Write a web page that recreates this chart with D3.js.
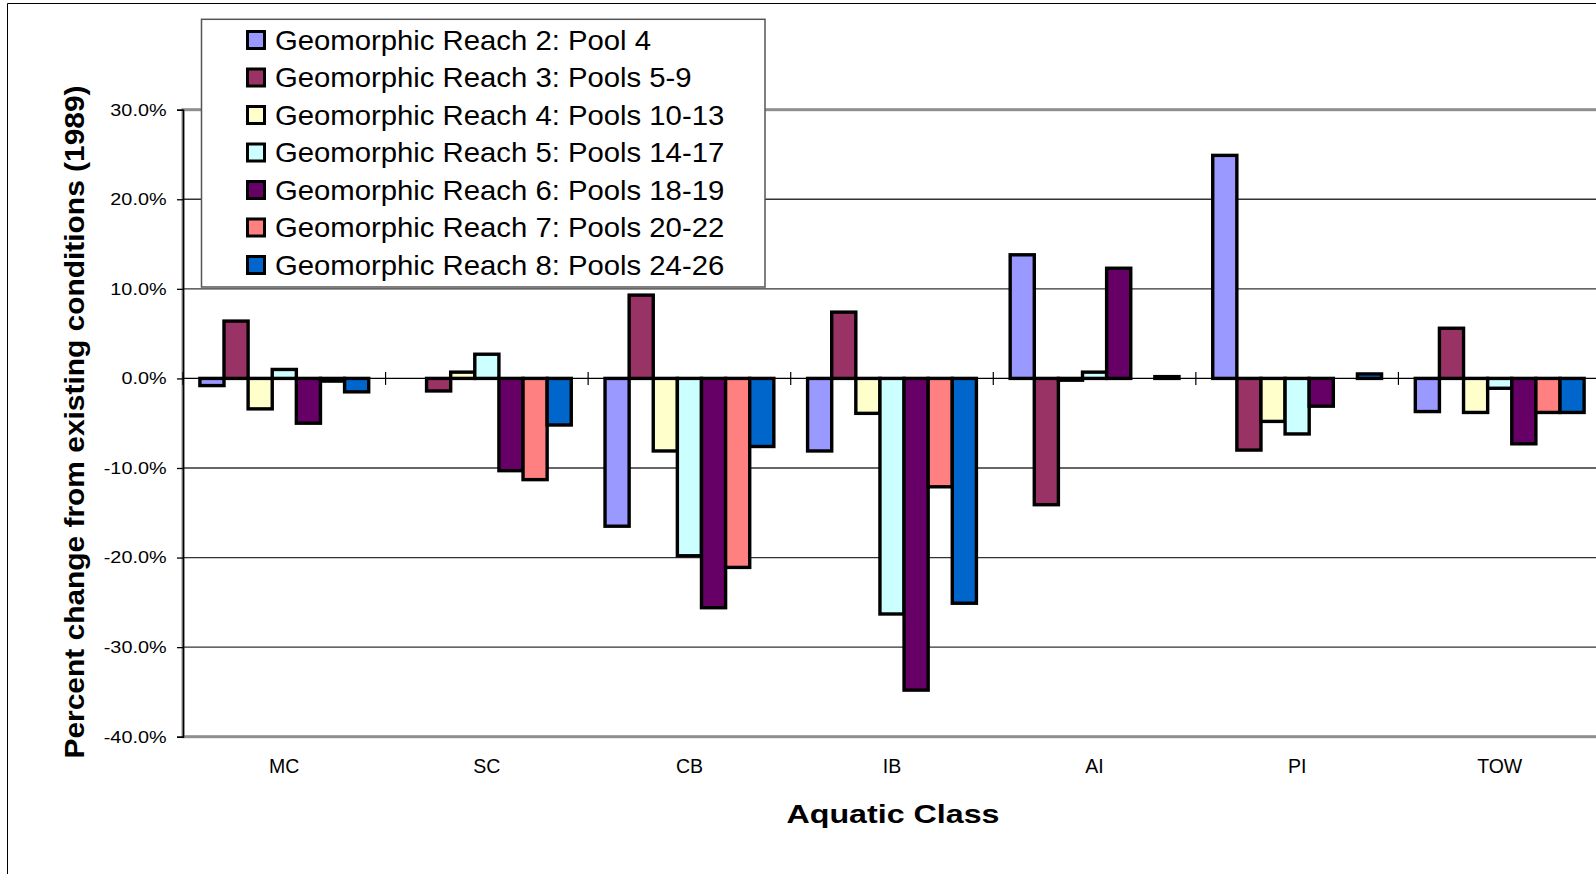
<!DOCTYPE html>
<html>
<head>
<meta charset="utf-8">
<script src="https://cdn.jsdelivr.net/npm/d3@7"></script>
<style>
  html, body { margin: 0; padding: 0; background: #fff; overflow: hidden; }
  svg { display: block; }
  text { font-family: "Liberation Sans", Arial, Helvetica, sans-serif; fill: #000; }
</style>
</head>
<body>
<svg id="chart" width="1596" height="874"></svg>
<script>
// ---- Data ----
const categories = ["MC", "SC", "CB", "IB", "AI", "PI", "TOW"];
const seriesNames = [
  "Geomorphic Reach 2: Pool 4",
  "Geomorphic Reach 3: Pools 5-9",
  "Geomorphic Reach 4: Pools 10-13",
  "Geomorphic Reach 5: Pools 14-17",
  "Geomorphic Reach 6: Pools 18-19",
  "Geomorphic Reach 7: Pools 20-22",
  "Geomorphic Reach 8: Pools 24-26"
];
const seriesColors = ["#9999FF", "#993366", "#FFFFCC", "#CCFFFF", "#660066", "#FF8080", "#0066CC"];
// percent change, one array per series, in category order (null = no bar)
const reach2 = [-0.8, null, -16.5, -8.1, 13.8, 24.9, -3.7];
const reach3 = [6.4, -1.4, 9.3, 7.4, -14.1, -8.0, 5.6];
const reach4 = [-3.4, 0.7, -8.1, -3.9, -0.2, -4.8, -3.8];
const reach5 = [1.0, 2.7, -19.8, -26.3, 0.7, -6.2, -1.1];
const reach6 = [-5.0, -10.3, -25.6, -34.8, 12.3, -3.1, -7.3];
const reach7 = [-0.3, -11.3, -21.1, -12.1, null, null, -3.8];
const reach8 = [-1.5, -5.2, -7.6, -25.1, 0.2, 0.5, -3.8];
const seriesValues = [reach2, reach3, reach4, reach5, reach6, reach7, reach8];
const yTicks = [30, 20, 10, 0, -10, -20, -30, -40];
const yTickLabels = ["30.0%", "20.0%", "10.0%", "0.0%", "-10.0%", "-20.0%", "-30.0%", "-40.0%"];
const yTitle = "Percent change from existing conditions (1989)";
const xTitle = "Aquatic Class";

// ---- Layout ----
const svg = d3.select("#chart");
const plot = { left: 183, right: 1601, top: 109.7, bottom: 736.7 };

const y = d3.scaleLinear().domain([-40, 30]).range([plot.bottom, plot.top]);
const x0 = d3.scaleBand().domain(categories).range([plot.left, plot.right]).padding(0);
const x1 = d3.scaleBand().domain(d3.range(seriesNames.length))
  .range([0, x0.bandwidth()]).paddingInner(0).paddingOuter(0.7);

// outer chart-area border (left and top visible)
svg.append("line").attr("x1", 7.5).attr("x2", 7.5).attr("y1", 3.5).attr("y2", 874)
  .attr("stroke", "#000").attr("stroke-width", 1);
svg.append("line").attr("x1", 7.5).attr("x2", 1596).attr("y1", 3.5).attr("y2", 3.5)
  .attr("stroke", "#000").attr("stroke-width", 1);

// plot area border
svg.append("rect")
  .attr("x", plot.left).attr("y", plot.top)
  .attr("width", plot.right - plot.left).attr("height", plot.bottom - plot.top)
  .attr("fill", "none").attr("stroke", "#8f8f8f").attr("stroke-width", 3);

// gridlines
svg.append("g").selectAll("line")
  .data(yTicks.filter(t => t !== 30 && t !== -40 && t !== 0))
  .join("line")
  .attr("x1", plot.left).attr("x2", plot.right)
  .attr("y1", d => y(d)).attr("y2", d => y(d))
  .attr("stroke", "#333").attr("stroke-width", 1.3);

// Y axis
const yAxis = d3.axisLeft(y).tickValues(yTicks).tickSize(6).tickFormat(() => "");
const yg = svg.append("g").attr("transform", `translate(${plot.left},0)`).call(yAxis);
yg.select(".domain").attr("stroke", "#000").attr("stroke-width", 1.5);
yg.selectAll(".tick line").attr("stroke", "#000").attr("stroke-width", 1.3);

// y tick labels (stretched horizontally like the original)
svg.append("g").selectAll("text")
  .data(yTicks)
  .join("text")
  .attr("transform", d => `translate(166.5,${y(d) + 5.8}) scale(1.2,1)`)
  .attr("text-anchor", "end")
  .attr("font-size", 16.5)
  .text((d, i) => yTickLabels[i]);

// bars
const groups = svg.append("g").selectAll("g")
  .data(categories)
  .join("g")
  .attr("transform", c => `translate(${x0(c)},0)`);

groups.selectAll("rect")
  .data((c, ci) => seriesValues.map((vals, si) => ({ si, v: vals[ci] })).filter(d => d.v !== null))
  .join("rect")
  .attr("x", d => x1(d.si))
  .attr("width", x1.bandwidth())
  .attr("y", d => y(Math.max(0, d.v)))
  .attr("height", d => Math.abs(y(d.v) - y(0)))
  .attr("fill", d => seriesColors[d.si])
  .attr("stroke", "#000")
  .attr("stroke-width", 3.4);

// category axis at zero
svg.append("line")
  .attr("x1", plot.left).attr("x2", plot.right)
  .attr("y1", y(0)).attr("y2", y(0))
  .attr("stroke", "#000").attr("stroke-width", 1.3);
const boundaries = categories.map(c => x0(c)).concat([plot.right]);
svg.append("g").selectAll("line")
  .data(boundaries)
  .join("line")
  .attr("x1", d => d).attr("x2", d => d)
  .attr("y1", y(0) - 6.5).attr("y2", y(0) + 6.5)
  .attr("stroke", "#000").attr("stroke-width", 1.2);

// category labels
svg.append("g").selectAll("text")
  .data(categories)
  .join("text")
  .attr("x", c => x0(c) + x0.bandwidth() / 2)
  .attr("y", 773.3)
  .attr("text-anchor", "middle")
  .attr("font-size", 19.5)
  .text(c => c);

// axis titles
svg.append("text")
  .attr("transform", `translate(${(plot.left + plot.right) / 2 + 1},822.7) scale(1.24,1)`)
  .attr("text-anchor", "middle")
  .attr("font-size", 26)
  .attr("font-weight", "bold")
  .text(xTitle);

svg.append("text")
  .attr("transform", `translate(83.5,422) rotate(-90) scale(1.1,1)`)
  .attr("text-anchor", "middle")
  .attr("font-size", 27.2)
  .attr("font-weight", "bold")
  .text(yTitle);

// legend
const legend = svg.append("g");
legend.append("rect")
  .attr("x", 201.5).attr("y", 19.3).attr("width", 563.5).attr("height", 267.7)
  .attr("fill", "#fff").attr("stroke", "#555").attr("stroke-width", 1.5);
const rows = legend.selectAll("g.row")
  .data(seriesNames)
  .join("g")
  .attr("class", "row")
  .attr("transform", (d, i) => `translate(0,${i * 37.5})`);
rows.append("rect")
  .attr("x", 247.5).attr("y", 31.5).attr("width", 17).attr("height", 17)
  .attr("fill", (d, i) => seriesColors[i])
  .attr("stroke", "#000").attr("stroke-width", 3);
rows.append("text")
  .attr("transform", "translate(275,49.5) scale(1.085,1)")
  .attr("font-size", 27)
  .text(d => d);
</script>
</body>
</html>
